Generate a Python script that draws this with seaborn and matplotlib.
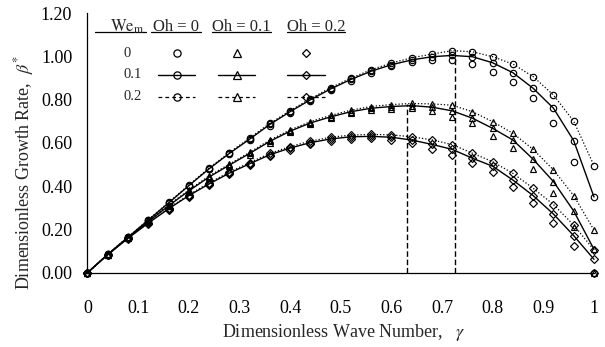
import matplotlib
matplotlib.use("Agg")
import matplotlib.pyplot as plt
import numpy as np
import pandas as pd
import seaborn as sns

# Dimensionless wave numbers at which growth rates were evaluated
gamma = [0.00, 0.04, 0.08, 0.12, 0.16, 0.20, 0.24, 0.28, 0.32, 0.36, 0.40, 0.44, 0.48,
         0.52, 0.56, 0.60, 0.64, 0.68, 0.72, 0.76, 0.80, 0.84, 0.88, 0.92, 0.96, 1.00]

# Oh = 0
oh0_we0 = [0, .085, .163, .241, .320, .399, .477, .548, .613, .680, .738, .794, .843,
           .887, .924, .953, .973, .985, .982, .964, .929, .883, .806, .693, .510, 0.0]
oh0_we1 = [0, .085, .164, .243, .322, .402, .480, .551, .617, .685, .744, .799, .849,
           .893, .931, .961, .983, .998, 1.004, .998, .970, .924, .852, .760, .610, .350]
oh0_we2 = [0, .086, .165, .245, .325, .405, .484, .555, .622, .690, .749, .804, .855,
           .899, .938, .969, .993, 1.010, 1.026, 1.021, .998, .964, .906, .821, .700, .495]

# Oh = 0.1
oh1_we0 = [0, .084, .161, .234, .306, .374, .437, .492, .545, .601, .648, .686, .713,
           .736, .751, .758, .760, .745, .720, .690, .632, .575, .478, .367, .213, 0.0]
oh1_we1 = [0, .084, .162, .236, .309, .378, .442, .497, .551, .607, .654, .692, .720,
           .744, .760, .768, .772, .765, .748, .714, .667, .613, .524, .421, .285, .108]
oh1_we2 = [0, .085, .163, .238, .312, .382, .447, .502, .556, .613, .660, .698, .727,
           .751, .768, .777, .782, .780, .774, .744, .698, .644, .570, .475, .356, .197]

# Oh = 0.2
oh2_we0 = [0, .083, .158, .227, .292, .352, .405, .455, .497, .539, .569, .594, .610,
           .619, .621, .614, .598, .570, .544, .506, .467, .397, .321, .228, .123, 0.0]
oh2_we1 = [0, .083, .159, .229, .295, .356, .410, .460, .503, .545, .576, .601, .618,
           .628, .630, .626, .613, .593, .570, .529, .492, .428, .356, .271, .171, .062]
oh2_we2 = [0, .084, .160, .231, .298, .360, .415, .465, .509, .551, .583, .608, .626,
           .636, .639, .637, .628, .614, .592, .552, .513, .459, .390, .315, .220, .105]

# Wave numbers of maximum growth and the corresponding rates
peak_gamma = [0.63, 0.725]
peak_beta = [0.78, 0.99]

oh_labels = ["Oh = 0", "Oh = 0.1", "Oh = 0.2"]
we_labels = ["0", "0.1", "0.2"]
x_ticks = [0, 0.1, 0.2, 0.3, 0.4, 0.5, 0.6, 0.7, 0.8, 0.9, 1.0]
x_tick_labels = ["0", "0.1", "0.2", "0.3", "0.4", "0.5", "0.6", "0.7", "0.8", "0.9", "1"]
y_ticks = [0.0, 0.2, 0.4, 0.6, 0.8, 1.0, 1.2]
y_tick_labels = ["0.00", "0.20", "0.40", "0.60", "0.80", "1.00", "1.20"]

series = {
    ("Oh = 0", "0"): oh0_we0, ("Oh = 0", "0.1"): oh0_we1, ("Oh = 0", "0.2"): oh0_we2,
    ("Oh = 0.1", "0"): oh1_we0, ("Oh = 0.1", "0.1"): oh1_we1, ("Oh = 0.1", "0.2"): oh1_we2,
    ("Oh = 0.2", "0"): oh2_we0, ("Oh = 0.2", "0.1"): oh2_we1, ("Oh = 0.2", "0.2"): oh2_we2,
}
rows = []
for (oh, we), vals in series.items():
    for g, b in zip(gamma, vals):
        rows.append({"gamma": g, "beta": b, "Oh": oh, "We": we})
df = pd.DataFrame(rows)

sns.set_theme(style="white")
plt.rcParams["font.family"] = ["Liberation Serif", "DejaVu Serif"]
plt.rcParams["mathtext.fontset"] = "stix"

fig = plt.figure(figsize=(6.05, 3.47), dpi=100)
ax = fig.add_axes([0.1446, 0.2141, 0.8372, 0.7484])

markers = {"Oh = 0": ("o", 4.6), "Oh = 0.1": ("^", 5.0), "Oh = 0.2": ("D", 3.6)}
line_styles = {"0": None, "0.1": "-", "0.2": (0, (1.0, 1.6))}
line_widths = {"0.1": 1.0, "0.2": 0.9}

# curves first
for (oh, we), _ in series.items():
    ls = line_styles[we]
    if ls is None:
        continue
    sub = df[(df.Oh == oh) & (df.We == we)]
    sns.lineplot(data=sub, x="gamma", y="beta", ax=ax, color="black",
                 linestyle=ls, linewidth=line_widths[we], estimator=None,
                 errorbar=None, sort=True, legend=False, clip_on=False, zorder=2)

# open symbols on top
for (oh, we), _ in series.items():
    mk, ms = markers[oh]
    sub = df[(df.Oh == oh) & (df.We == we)]
    sns.lineplot(data=sub, x="gamma", y="beta", ax=ax, color="black",
                 linestyle="", marker=mk, markersize=ms, mfc="none", mec="black",
                 mew=0.85, estimator=None, errorbar=None, legend=False,
                 clip_on=False, zorder=3)

# vertical dashed lines at the maxima
for g, b in zip(peak_gamma, peak_beta):
    ax.plot([g, g], [0, b], color="black", linestyle=(0, (4, 2)), linewidth=1.0, zorder=1)

# table-style key
hdr_y, ul_y = 1.134, 1.114
ax.text(0.078, hdr_y, r"$\mathrm{We}_{\mathrm{m}}$", fontsize=12, ha="center", va="center")
ax.plot([0.015, 0.115], [ul_y, ul_y], color="black", lw=0.9)
col_x = [0.174, 0.303, 0.451]
ul_spans = [(0.125, 0.2235), (0.245, 0.362), (0.394, 0.508)]
for lab, cx, (u0, u1) in zip(oh_labels, col_x, ul_spans):
    ax.text(cx, hdr_y, lab, fontsize=12, ha="center", va="center")
    ax.plot([u0, u1], [ul_y, ul_y], color="black", lw=0.9)

row_y = [1.014, 0.914, 0.813]
mk_x = [0.176, 0.2945, 0.431]
for we, ry in zip(we_labels, row_y):
    ax.text(0.072, ry, we, fontsize=10.5, ha="left", va="center")
    for oh, mx in zip(oh_labels, mk_x):
        mk, ms = markers[oh]
        if line_styles[we] is not None:
            ls = "-" if we == "0.1" else (0, (3, 2.5))
            ax.plot([mx - 0.037, mx + 0.037], [ry, ry], color="black",
                    linestyle=ls, lw=1.0 if we == "0.1" else 0.9)
        ax.plot([mx], [ry], marker=mk, ms=ms + 0.6, mfc="none", mec="black",
                mew=0.9, linestyle="")

ax.set_xlim(0, 1)
ax.set_ylim(0, 1.2)
ax.set_xticks(x_ticks)
ax.set_xticklabels(x_tick_labels)
ax.set_yticks(y_ticks)
ax.set_yticklabels(y_tick_labels)
ax.tick_params(axis="both", direction="out", length=5, width=0.8, colors="black",
               labelsize=13)
ax.tick_params(axis="x", pad=15)
ax.tick_params(axis="y", pad=6)
sns.despine(ax=ax)
for sp in ("left", "bottom"):
    ax.spines[sp].set_color("black")
    ax.spines[sp].set_linewidth(0.9)

ax.set_xlabel(r"Dimensionless Wave Number,   $\gamma$", fontsize=13)
ax.set_ylabel(r"Dimensionless Growth Rate,  $\beta^{*}$", fontsize=13)
ax.xaxis.set_label_coords(0.506, -0.19)
ax.yaxis.set_label_coords(-0.102, 0.385)

fig.savefig("out.png", dpi=100)
